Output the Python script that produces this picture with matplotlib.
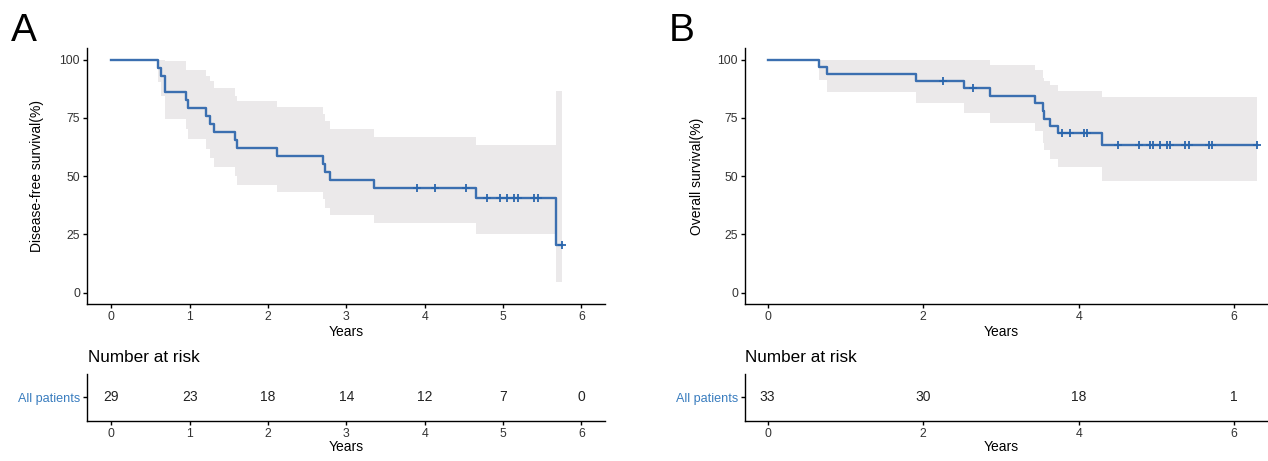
import numpy as np
import matplotlib.pyplot as plt

plt.rcParams['font.family'] = ['Liberation Sans', 'DejaVu Sans']

# A - disease-free survival (years, %)
dfs_time = [0, 0.60, 0.64, 0.68, 0.95, 0.98, 1.21, 1.26, 1.31, 1.58, 1.60, 2.12, 2.70, 2.73, 2.79, 3.35, 4.66, 5.68]
dfs_surv = [100, 96.6, 93.1, 86.2, 82.8, 79.3, 75.9, 72.4, 69.0, 65.5, 62.1, 58.6, 55.2, 51.7, 48.3, 44.8, 40.5, 20.6]
dfs_upper = [100, 100, 100, 99.5, 95.5, 95.5, 93.0, 91.0, 88.0, 84.5, 82.3, 79.5, 76.6, 73.7, 70.1, 67.0, 63.2, 86.6]
dfs_lower = [100, 90.3, 84.5, 74.4, 70.1, 65.8, 61.8, 57.9, 54.1, 50.0, 46.4, 43.1, 40.0, 36.5, 33.2, 29.9, 25.3, 4.7]
dfs_end = 5.75
dfs_censor = [3.90, 4.13, 4.52, 4.79, 4.96, 5.05, 5.14, 5.19, 5.40, 5.44, 5.75]
dfs_risk_time = [0, 1, 2, 3, 4, 5, 6]
dfs_risk_n = [29, 23, 18, 14, 12, 7, 0]

# B - overall survival
os_time = [0, 0.66, 0.76, 1.91, 2.53, 2.86, 3.44, 3.54, 3.56, 3.63, 3.74, 4.30]
os_surv = [100, 97.0, 93.9, 90.9, 87.8, 84.5, 81.5, 78.0, 74.7, 71.6, 68.4, 63.4]
os_upper = [100, 100, 100, 100, 100, 97.9, 95.5, 92.0, 91.0, 89.1, 86.4, 83.8]
os_lower = [100, 91.2, 86.2, 81.6, 77.0, 72.7, 69.5, 64.4, 61.3, 57.5, 53.9, 47.9]
os_end = 6.29
os_censor = [2.26, 2.64, 3.78, 3.89, 4.07, 4.11, 4.51, 4.77, 4.92, 4.95, 5.04, 5.13,
             5.18, 5.37, 5.42, 5.67, 5.72, 6.29]
os_risk_time = [0, 2, 4, 6]
os_risk_n = [33, 30, 18, 1]

W, H = 1268, 461
line_col = '#3b6fb0'
band_col = '#ebe9ea'
tick_col = '#333333'


def box(l, t, r, b):
    return [l / W, 1 - b / H, (r - l) / W, (b - t) / H]


def style(ax):
    for s in ['top', 'right']:
        ax.spines[s].set_visible(False)
    for s in ['left', 'bottom']:
        ax.spines[s].set_linewidth(1.0)
    ax.tick_params(length=3, width=1.0, pad=2, labelsize=8.8, labelcolor=tick_col)


def draw_km(ax, time, surv, upper, lower, end, censor, xlim, xticks):
    x = np.append(time, end)
    y = np.append(surv, surv[-1])
    up = np.append(upper, upper[-1])
    lo = np.append(lower, lower[-1])
    ax.fill_between(x, lo, up, step='post', color=band_col, lw=0)
    ax.step(x, y, where='post', color=line_col, lw=1.7)
    idx = np.searchsorted(time, censor, side='right') - 1
    ax.plot(censor, np.array(surv)[idx], '+', color='#2a66ad', ms=6, mew=1.3)
    ax.set_xlim(*xlim)
    ax.set_ylim(-5, 105)
    ax.set_xticks(xticks)
    ax.set_yticks([0, 25, 50, 75, 100])
    style(ax)


def draw_risk(ax, rt, rn, xlim, xticks):
    for t, n in zip(rt, rn):
        ax.text(t, 0.5, str(n), ha='center', va='center', fontsize=10, color='#222222')
    ax.set_xlim(*xlim)
    ax.set_ylim(0, 1)
    ax.set_xticks(xticks)
    ax.set_yticks([0.5])
    ax.set_yticklabels(['All patients'])
    style(ax)
    ax.tick_params(axis='y', labelsize=9.1)
    ax.get_yticklabels()[0].set_color('#3a7dbf')


fig = plt.figure(figsize=(W / 100, H / 100), dpi=100)

xa = (-0.31, 6.30)
axA = fig.add_axes(box(87, 48, 605, 304.3))
draw_km(axA, dfs_time, dfs_surv, dfs_upper, dfs_lower, dfs_end, dfs_censor, xa, range(7))
rA = fig.add_axes(box(87, 374, 605, 420.7))
draw_risk(rA, dfs_risk_time, dfs_risk_n, xa, range(7))

xb = (-0.29, 6.435)
axB = fig.add_axes(box(745, 48, 1268, 304.3))
draw_km(axB, os_time, os_surv, os_upper, os_lower, os_end, os_censor, xb, [0, 2, 4, 6])
rB = fig.add_axes(box(745, 374, 1268, 420.7))
draw_risk(rB, os_risk_time, os_risk_n, xb, [0, 2, 4, 6])

# labels
fig.text(11 / W, 1 - 40.7 / H, 'A', fontsize=28, va='baseline', ha='left')
fig.text(669 / W, 1 - 40.7 / H, 'B', fontsize=28, va='baseline', ha='left')
fig.text(37 / W, 1 - 176 / H, 'Disease-free survival(%)', rotation=90, ha='center', va='center', fontsize=10)
fig.text(697 / W, 1 - 176 / H, 'Overall survival(%)', rotation=90, ha='center', va='center', fontsize=10)
for cx in [346, 1001]:
    fig.text(cx / W, 1 - 332 / H, 'Years', ha='center', va='center', fontsize=10)
    fig.text(cx / W, 1 - 447 / H, 'Years', ha='center', va='center', fontsize=10)
fig.text(88 / W, 1 - 358 / H, 'Number at risk', ha='left', va='center', fontsize=12.3)
fig.text(745 / W, 1 - 358 / H, 'Number at risk', ha='left', va='center', fontsize=12.3)

fig.savefig('out.png', dpi=100)
